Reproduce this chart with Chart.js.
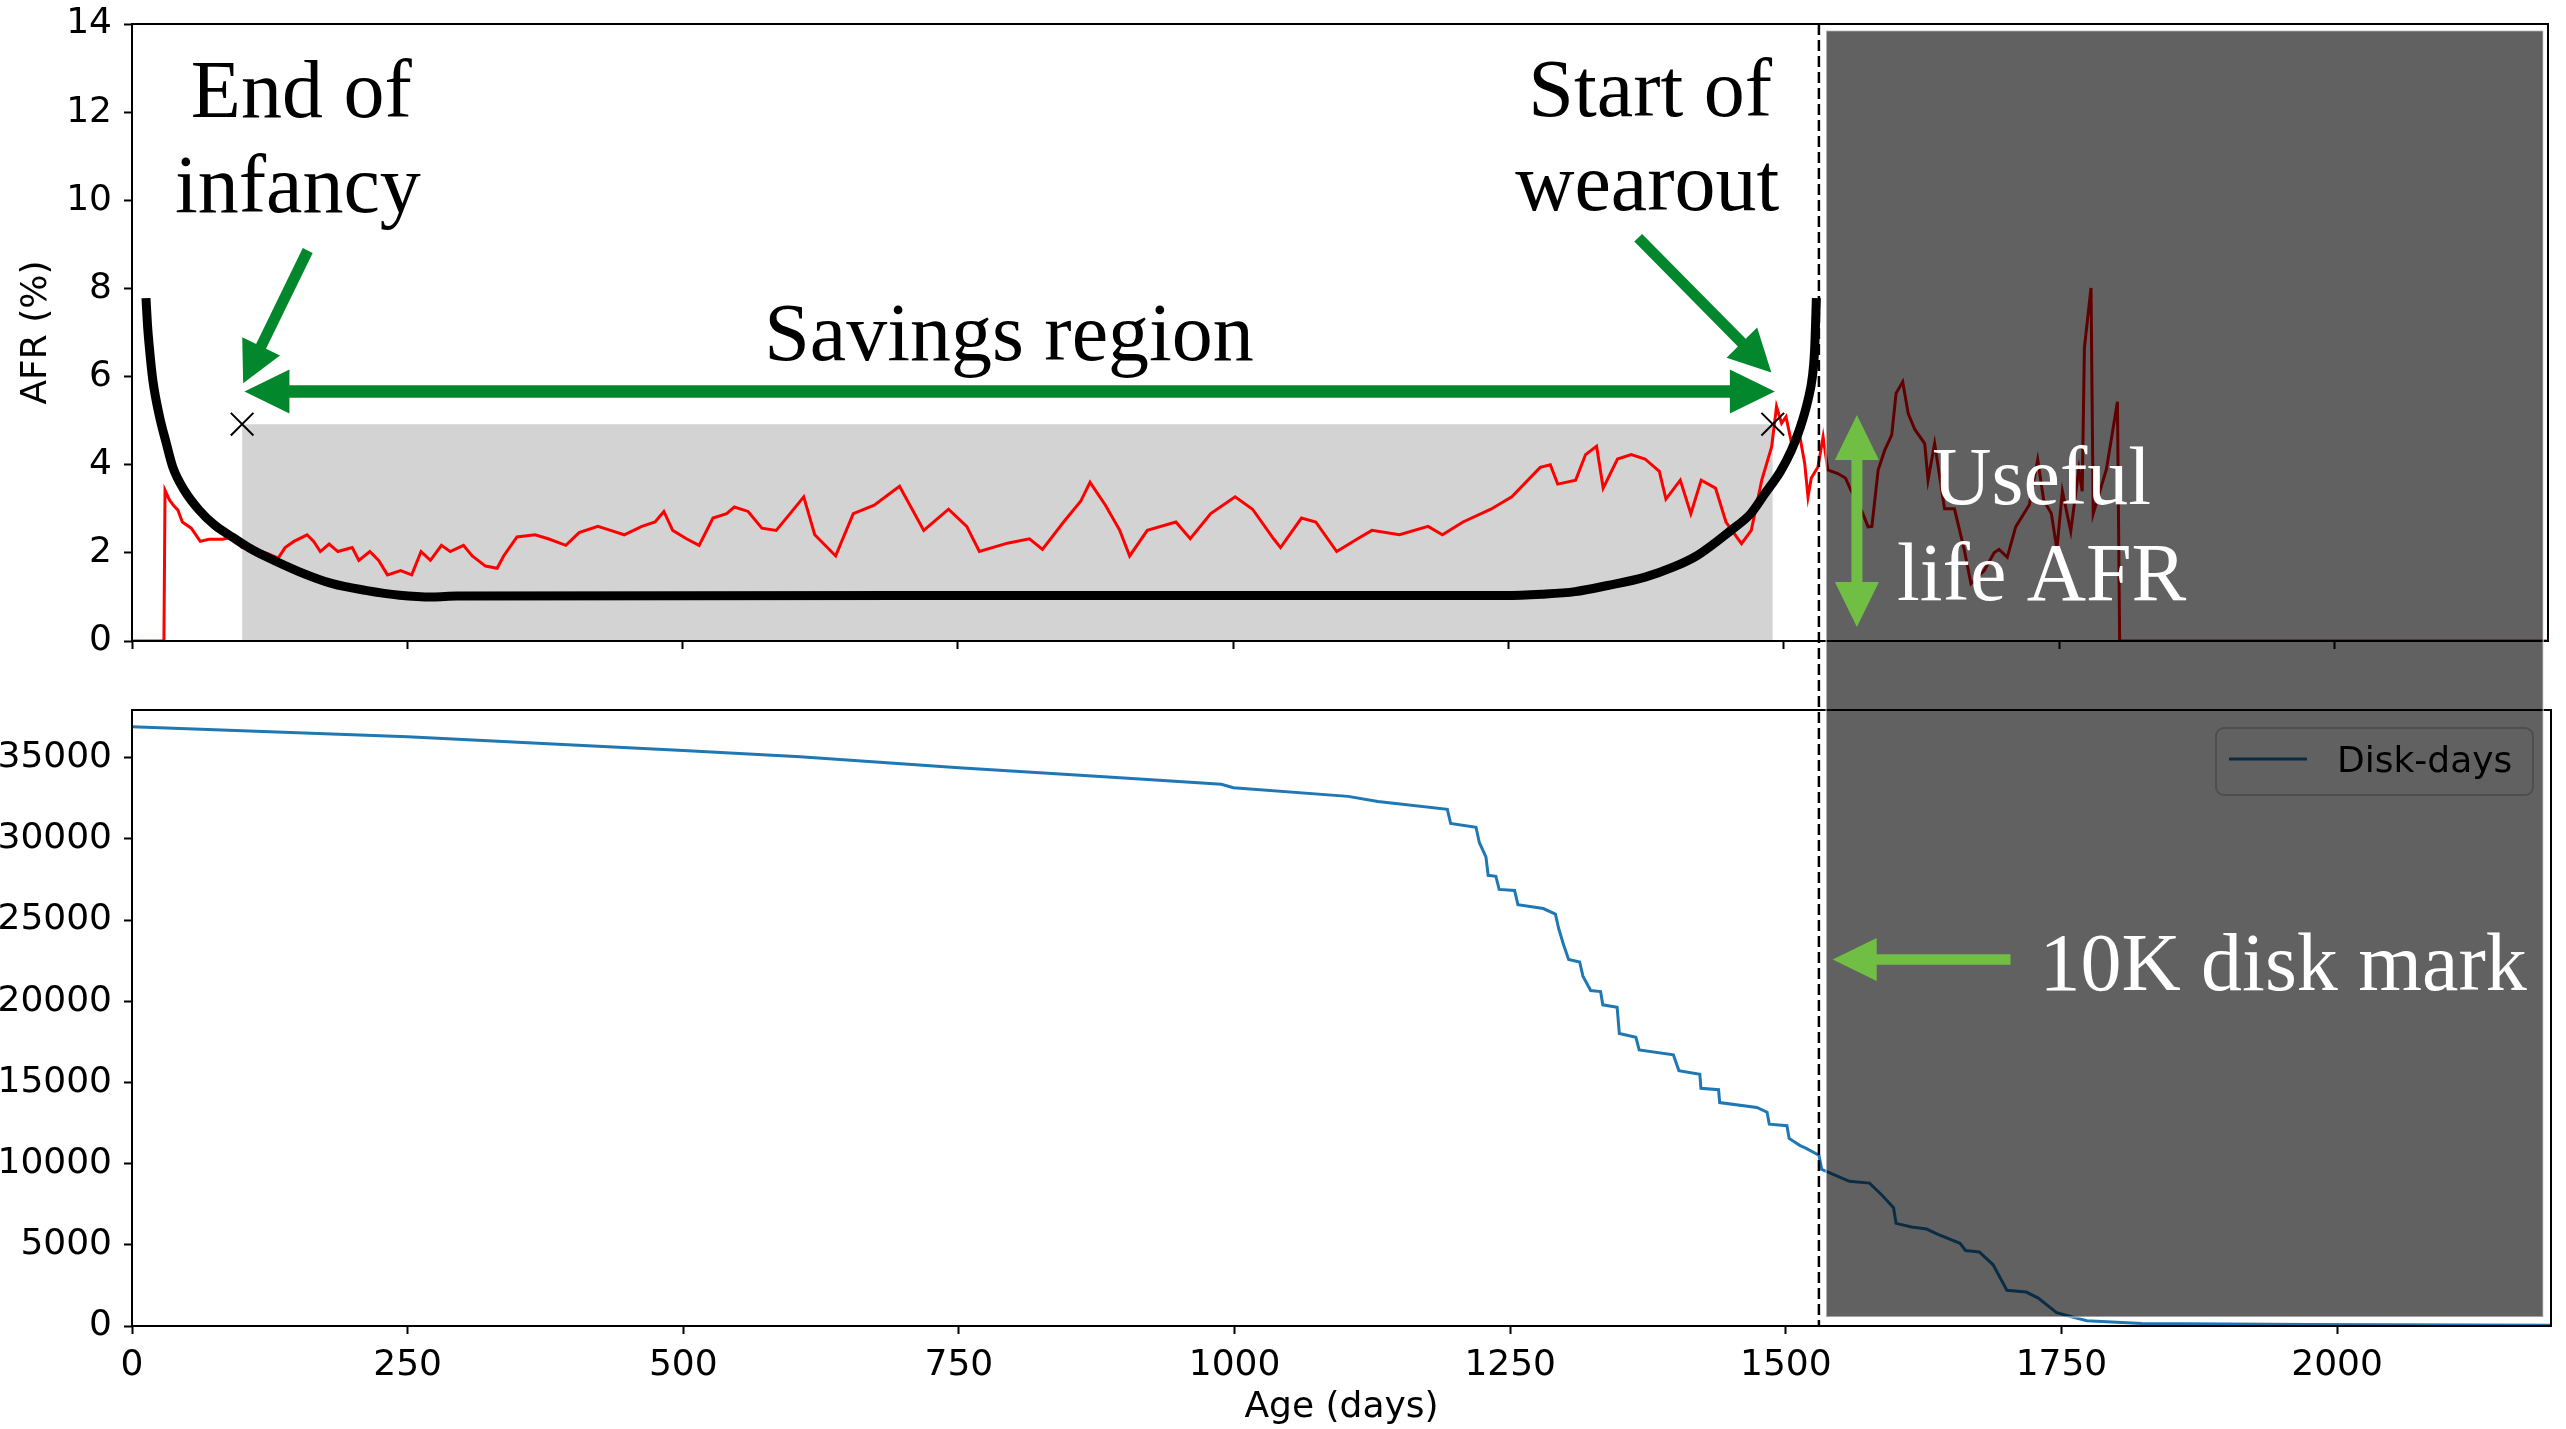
<!DOCTYPE html>
<html>
<head>
<meta charset="utf-8">
<script src="https://cdn.jsdelivr.net/npm/chart.js@4.4.1/dist/chart.umd.min.js"></script>
<style>
html,body{margin:0;padding:0;background:#ffffff;overflow:hidden;}
#wrap{position:relative;width:2566px;height:1429px;}
#wrap canvas{position:absolute;left:0;top:0;}
</style>
</head>
<body>
<div id="wrap">
<canvas id="afrCanvas" width="2566" height="1429"></canvas>
<canvas id="diskCanvas" width="2566" height="1429"></canvas>
</div>
<script>
// ---------------- data ----------------
const AGE_MAX = 2194;
const X_TICKS = [0, 250, 500, 750, 1000, 1250, 1500, 1750, 2000];
const AFR_TICKS = [0, 2, 4, 6, 8, 10, 12, 14];
const DISK_TICKS = [0, 5000, 10000, 15000, 20000, 25000, 30000, 35000];
const AFR_MAX = 14;
const DISK_MAX = 37940;

// measured AFR (%) by age (days)
const AFR_DAYS = [0,29,30,34,37.6,41.7,45.7,53.8,62,70,82,90,100,110.6,122.7,132.8,139,147,159,165,171,179,187,200,206,216,224,232,244,254,262.5,271,281,289,301,309,321,331.6,337.5,349.6,366,378,394,406,423,434.6,447,463,475,483,491,503.5,515,527.6,540,547,559.5,572,585,597.6,610,620,639,655,674,697,719,741.5,758,769.5,795,815,826.8,846,861.5,870,884,897,906,922,948,961,979.6,1001.8,1017.6,1036.7,1043,1062,1075,1094,1113,1126,1151,1177,1190,1208.7,1234,1253,1278.8,1288,1294.7,1311,1320,1330,1336,1349,1361.5,1374,1387,1393,1406,1415.6,1425,1438,1447.5,1461.6,1470.5,1480,1489,1493.4,1498,1502,1507,1513,1519,1522,1525,1531,1535.7,1540,1549,1556,1561,1570.5,1576.6,1580,1585.7,1591.7,1598,1602,1608,1613,1619,1628,1631,1637,1646,1655,1664,1670,1682,1691,1695.5,1703,1710.6,1723,1730.6,1736,1743,1748,1753,1760.6,1768,1771,1773,1779,1781,1793,1803,1805,2194];
const AFR_VALUES = [0,0,3.42,3.2,3.08,2.97,2.70,2.56,2.26,2.31,2.31,2.35,2.12,2.08,1.99,1.88,2.12,2.26,2.41,2.26,2.03,2.2,2.03,2.12,1.83,2.03,1.83,1.50,1.60,1.50,2.03,1.83,2.17,2.03,2.17,1.93,1.70,1.65,1.93,2.36,2.41,2.32,2.17,2.46,2.60,2.51,2.41,2.60,2.70,2.94,2.51,2.32,2.17,2.79,2.89,3.04,2.94,2.56,2.51,2.89,3.27,2.41,1.93,2.89,3.08,3.51,2.51,2.99,2.6,2.03,2.22,2.32,2.08,2.70,3.17,3.60,3.08,2.51,1.93,2.51,2.70,2.32,2.89,3.27,2.99,2.32,2.12,2.79,2.7,2.03,2.32,2.51,2.41,2.60,2.41,2.70,2.99,3.27,3.94,4.0,3.56,3.65,4.23,4.42,3.47,4.13,4.23,4.13,3.85,3.22,3.65,2.89,3.65,3.47,2.70,2.21,2.51,3.65,4.41,5.32,4.94,5.09,4.5,4.86,4.03,3.27,3.7,3.95,4.63,3.88,3.80,3.7,3.42,2.97,2.59,2.6,3.88,4.33,4.67,5.62,5.88,5.16,4.8,4.48,3.65,4.48,3.0,3.0,2.06,1.30,1.6,2.0,2.08,1.9,2.59,3.09,4.11,3.2,2.89,2.08,3.4,2.49,3.90,3.4,6.65,8.01,2.89,3.9,5.43,0,0];

// idealised bathtub curve
const BATHTUB_DAYS = [12.7,14,16,19,25,31,37,48,61,75,91,106,122,152,182,212,243,273,295,700,1247,1280,1310.5,1340,1374,1400,1422,1452,1470,1483,1497,1507,1515,1522,1526,1528,1529.6];
const BATHTUB_AFR = [7.78,7.2,6.6,5.9,5.09,4.5,3.95,3.4,2.97,2.63,2.36,2.12,1.91,1.57,1.30,1.15,1.04,1.0,1.02,1.03,1.03,1.06,1.12,1.26,1.45,1.68,1.95,2.51,2.89,3.35,3.85,4.33,4.85,5.47,6.0,6.6,7.78];

// savings region and its end markers
const SAVINGS_DAYS = [100, 1490];
const SAVINGS_AFR = [4.92, 4.92];
const MARKER_DAYS = [100, 1490];
const MARKER_AFR = [4.92, 4.92];

// disk-days remaining by age
const DISK_AGE = [0,250,500,606,750,889,988,999,1103,1130,1193,1196,1219,1222,1228,1230,1237,1240,1254,1257,1280,1291,1294,1298.5,1303,1313,1316,1323,1332,1334,1347,1349,1364,1367,1398,1403,1422,1423,1439,1440,1473.7,1483,1485,1501,1503,1513,1517.6,1530,1532.6,1557.6,1576,1587.7,1597.7,1600,1614,1627.7,1638,1658,1663,1675.5,1688,1700.5,1718,1729,1745.6,1760,1773,1823,1973,2194];
const DISK_VALUES = [36914,36293,35443,35062,34386,33796,33362,33150,32620,32300,31826,30950,30720,29780,28890,27760,27700,26890,26830,25950,25710,25370,24480,23460,22570,22420,21550,20660,20600,19780,19630,18010,17780,17000,16700,15730,15510,14640,14550,13760,13460,13170,12430,12340,11550,11110,10970,10520,9640,8910,8800,8020,7290,6320,6100,5970,5650,5090,4650,4560,3770,2200,2090,1720,820,550,330,150,90,40];

const CUTOFF_DAY = 1530; // 10K disk mark

// ---------------- annotation geometry (data units) ----------------
const SHADE = {fromDay: 1536.5, toDay: 2187, topAfr: 13.85, bottomDisk: 554};
const LABELS_TOP = [
  {text: 'End of', day: 153.7, afr: 11.89, color: '#000'},
  {text: 'infancy', day: 150.6, afr: 9.73, color: '#000'},
  {text: 'Start of', day: 1378.7, afr: 11.92, color: '#000'},
  {text: 'wearout', day: 1376, afr: 9.77, color: '#000'},
  {text: 'Savings region', day: 796.4, afr: 6.38, color: '#000'},
  {text: 'Useful', day: 1734.2, afr: 3.10, color: '#fff'},
  {text: 'life AFR', day: 1734.2, afr: 0.92, color: '#fff'}
];
const LABELS_BOTTOM = [{text: '10K disk mark', day: 1951, disk: 20664, color: '#fff'}];
const DARK_GREEN = '#03872d', LIGHT_GREEN = '#70bf44';
const ARROWS_TOP = [
  {from: [159.6, 8.86], to: [100.95, 5.85], color: DARK_GREEN, w: 11, hl: 41, hw: 21, dbl: false},
  {from: [102.1, 5.66], to: [1491.9, 5.66], color: DARK_GREEN, w: 12.5, hl: 45, hw: 22, dbl: true},
  {from: [1367.8, 9.15], to: [1488.7, 6.09], color: DARK_GREEN, w: 11, hl: 42, hw: 21.5, dbl: false},
  {from: [1566.4, 5.13], to: [1566.4, 0.32], color: LIGHT_GREEN, w: 11, hl: 45, hw: 22, dbl: true}
];
const ARROWS_BOTTOM = [
  {from: [1703.8, 22579], to: [1542.5, 22579], color: LIGHT_GREEN, w: 10.5, hl: 44, hw: 21.5, dbl: false}
];

// ---------------- helpers ----------------
const toXY = (xs, ys) => xs.map((x, i) => ({x: x, y: ys[i]}));
Chart.defaults.font.family = '"DejaVu Sans", sans-serif';
Chart.defaults.font.size = 36;
Chart.defaults.color = '#000';

function drawArrow(ctx, x0, y0, x1, y1, a) {
  const dx = x1 - x0, dy = y1 - y0, L = Math.hypot(dx, dy);
  const ux = dx / L, uy = dy / L, nx = -uy, ny = ux;
  ctx.save();
  ctx.setLineDash([]);
  ctx.fillStyle = a.color; ctx.strokeStyle = a.color;
  ctx.lineWidth = a.w; ctx.lineCap = 'butt';
  const sx = a.dbl ? x0 + ux * a.hl * 0.8 : x0, sy = a.dbl ? y0 + uy * a.hl * 0.8 : y0;
  const ex = x1 - ux * a.hl * 0.8, ey = y1 - uy * a.hl * 0.8;
  ctx.beginPath(); ctx.moveTo(sx, sy); ctx.lineTo(ex, ey); ctx.stroke();
  const head = (tx, ty, vx, vy) => {
    const bx = tx - vx * a.hl, by = ty - vy * a.hl;
    ctx.beginPath();
    ctx.moveTo(tx, ty);
    ctx.lineTo(bx + nx * a.hw, by + ny * a.hw);
    ctx.lineTo(bx - nx * a.hw, by - ny * a.hw);
    ctx.closePath(); ctx.fill();
  };
  head(x1, y1, ux, uy);
  if (a.dbl) head(x0, y0, -ux, -uy);
  ctx.restore();
}

const spinesPlugin = {
  id: 'spines',
  afterDraw(chart) {
    const {ctx, chartArea: c} = chart;
    ctx.save();
    ctx.strokeStyle = '#000'; ctx.lineWidth = 2;
    ctx.strokeRect(c.left, c.top, c.right - c.left, c.bottom - c.top);
    ctx.restore();
  }
};

function tickList(arr) { return (axis) => { axis.ticks = arr.map(v => ({value: v})); }; }
const plainLabel = (v) => String(v);

function baseScales(yTicks, yMax, xHeight, showXLabels) {
  return {
    x: {
      type: 'linear', min: 0, max: AGE_MAX,
      afterBuildTicks: tickList(X_TICKS),
      afterFit: (s) => { s.height = xHeight; s.paddingLeft = 0; s.paddingRight = 0; },
      border: {display: false},
      grid: {drawOnChartArea: false, drawTicks: true, tickLength: 8, tickWidth: 2, tickColor: '#000'},
      ticks: {display: showXLabels, padding: 10, maxRotation: 0, autoSkip: false, color: '#000', font: {size: 36}, callback: plainLabel}
    },
    y: {
      type: 'linear', min: 0, max: yMax,
      afterBuildTicks: tickList(yTicks),
      afterFit: (s) => { s.width = 132; s.paddingTop = 0; s.paddingBottom = 0; },
      border: {display: false},
      grid: {drawOnChartArea: false, drawTicks: true, tickLength: 8, tickWidth: 2, tickColor: '#000'},
      ticks: {padding: 12, autoSkip: false, color: '#000', font: {size: 36}, callback: plainLabel}
    }
  };
}

// ---------------- top chart: AFR ----------------
const afrScales = baseScales(AFR_TICKS, AFR_MAX, 10, false);
afrScales.y.title = {display: true, text: 'AFR (%)', color: '#000', font: {size: 36}, padding: {top: 15, bottom: 0}};

const topChart = new Chart(document.getElementById('afrCanvas'), {
  type: 'scatter',
  data: {
    datasets: [
      {label: 'Region end', data: toXY(MARKER_DAYS, MARKER_AFR), showLine: false, pointStyle: 'crossRot', pointRadius: 16, pointBorderWidth: 2, pointBorderColor: '#000', pointBackgroundColor: '#000', order: 0},
      {label: 'Bathtub', data: toXY(BATHTUB_DAYS, BATHTUB_AFR), showLine: true, borderColor: '#000', borderWidth: 9, pointRadius: 0, cubicInterpolationMode: 'monotone', fill: false, order: 1},
      {label: 'AFR', data: toXY(AFR_DAYS, AFR_VALUES), showLine: true, borderColor: '#ff0000', borderWidth: 3, pointRadius: 0, tension: 0, fill: false, order: 2},
      {label: 'Savings region', data: toXY(SAVINGS_DAYS, SAVINGS_AFR), showLine: true, borderWidth: 0, borderColor: 'rgba(0,0,0,0)', backgroundColor: '#d3d3d3', pointRadius: 0, fill: 'origin', order: 3}
    ]
  },
  options: {
    responsive: false, animation: false, devicePixelRatio: 1, events: [],
    layout: {padding: {left: 0, top: 24, right: 15, bottom: 1429 - 641 - 10}},
    plugins: {legend: {display: false}, tooltip: {enabled: false}},
    scales: afrScales
  },
  plugins: [spinesPlugin]
});

// ---------------- bottom chart: disk-days + figure annotations ----------------
const overlayPlugin = {
  id: 'overlay',
  afterDraw(chart) {
    const ctx = chart.ctx;
    const bx = chart.scales.x, by = chart.scales.y;
    const tx = topChart.scales.x, ty = topChart.scales.y;
    const ds = chart.data.datasets[0];

    // legend (matplotlib style, upper right)
    ctx.save();
    const lx0 = 2216, ly0 = 728, lw = 317, lh = 67, r = 8;
    ctx.beginPath();
    ctx.roundRect(lx0, ly0, lw, lh, r);
    ctx.fillStyle = 'rgba(255,255,255,0.8)'; ctx.fill();
    ctx.strokeStyle = '#cccccc'; ctx.lineWidth = 2; ctx.stroke();
    ctx.strokeStyle = ds.borderColor; ctx.lineWidth = 3;
    ctx.beginPath(); ctx.moveTo(lx0 + 13, 759); ctx.lineTo(lx0 + 91, 759); ctx.stroke();
    ctx.fillStyle = '#000'; ctx.font = '36px "DejaVu Sans"'; ctx.textAlign = 'left'; ctx.textBaseline = 'alphabetic';
    ctx.fillText(ds.label, lx0 + 121, 772);
    ctx.restore();

    // dashed cutoff line across both panels
    ctx.save();
    const cx = bx.getPixelForValue(CUTOFF_DAY);
    ctx.setLineDash([11, 5]); ctx.lineWidth = 2.5; ctx.strokeStyle = '#000';
    ctx.beginPath(); ctx.moveTo(cx, ty.top); ctx.lineTo(cx, by.bottom); ctx.stroke();
    ctx.restore();

    // dark translucent panel
    ctx.save();
    const sx0 = bx.getPixelForValue(SHADE.fromDay), sx1 = bx.getPixelForValue(SHADE.toDay);
    const sy0 = ty.getPixelForValue(SHADE.topAfr), sy1 = by.getPixelForValue(SHADE.bottomDisk);
    ctx.fillStyle = 'rgba(0,0,0,0.62)';
    ctx.fillRect(sx0, sy0, sx1 - sx0, sy1 - sy0);
    ctx.strokeStyle = 'rgba(255,255,255,0.55)'; ctx.lineWidth = 1.5;
    ctx.strokeRect(sx0, sy0, sx1 - sx0, sy1 - sy0);
    ctx.restore();

    // arrows
    ARROWS_TOP.forEach(a => drawArrow(ctx, tx.getPixelForValue(a.from[0]), ty.getPixelForValue(a.from[1]), tx.getPixelForValue(a.to[0]), ty.getPixelForValue(a.to[1]), a));
    ARROWS_BOTTOM.forEach(a => drawArrow(ctx, bx.getPixelForValue(a.from[0]), by.getPixelForValue(a.from[1]), bx.getPixelForValue(a.to[0]), by.getPixelForValue(a.to[1]), a));

    // texts
    ctx.save();
    ctx.font = '82px "Liberation Serif", "DejaVu Serif", serif';
    ctx.textAlign = 'center'; ctx.textBaseline = 'alphabetic';
    LABELS_TOP.forEach(l => { ctx.fillStyle = l.color; ctx.fillText(l.text, tx.getPixelForValue(l.day), ty.getPixelForValue(l.afr)); });
    LABELS_BOTTOM.forEach(l => { ctx.fillStyle = l.color; ctx.fillText(l.text, bx.getPixelForValue(l.day), by.getPixelForValue(l.disk)); });
    ctx.restore();
  }
};

const diskScales = baseScales(DISK_TICKS, DISK_MAX, 1429 - 1326, true);
diskScales.x.title = {display: true, text: 'Age (days)', color: '#000', font: {size: 36}, padding: {top: 0, bottom: 0}};

const bottomChart = new Chart(document.getElementById('diskCanvas'), {
  type: 'scatter',
  data: {
    datasets: [
      {label: 'Disk-days', data: toXY(DISK_AGE, DISK_VALUES), showLine: true, borderColor: '#1f77b4', borderWidth: 3, pointRadius: 0, tension: 0, fill: false}
    ]
  },
  options: {
    responsive: false, animation: false, devicePixelRatio: 1, events: [],
    layout: {padding: {left: 0, top: 710, right: 15, bottom: 0}},
    plugins: {legend: {display: false}, tooltip: {enabled: false}},
    scales: diskScales
  },
  plugins: [spinesPlugin, overlayPlugin]
});
</script>
</body>
</html>
